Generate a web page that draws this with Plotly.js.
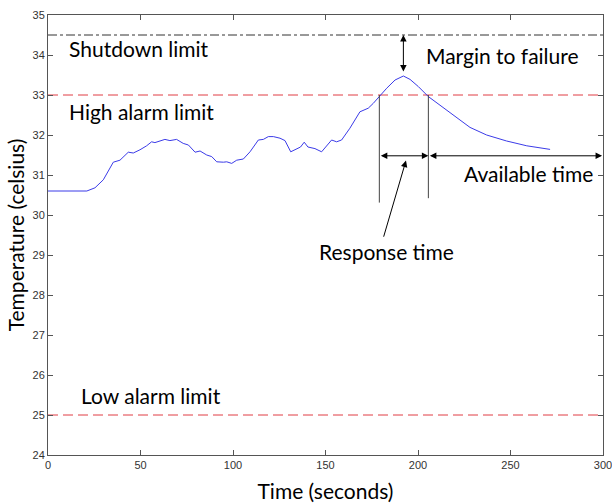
<!DOCTYPE html>
<html>
<head>
<meta charset="utf-8">
<script src="https://cdn.plot.ly/plotly-3.0.1.min.js"></script>
<style>html,body{margin:0;padding:0;background:#fff;}#chart{width:612px;height:503px;}</style>
</head>
<body>
<div id="chart"></div>
<script>
// Temperature trace (seconds, celsius)
const timeSec = [0, 21, 25.4, 29.9, 35.3, 38.9, 43.4, 46.1, 49.7, 53.3, 56, 57.8, 63.2, 65.9, 69.5, 73.1, 75.9, 79.5, 82.2, 85.8, 88.5, 91.2, 94.8, 96.6, 99.3, 102, 105.6, 109.2, 113.7, 116.4, 119.1, 121.8, 125.4, 128.1, 131.2, 134.4, 136.5, 138.5, 140.5, 144.3, 147.9, 153.3, 156, 158.7, 163.2, 168.6, 173.1, 175.8, 179.1, 183.1, 187.6, 192.1, 195.7, 200.2, 205.6, 211.9, 219.1, 228.1, 237.1, 247.9, 258.8, 271.4];
const tempC = [30.6, 30.6, 30.68, 30.88, 31.32, 31.37, 31.57, 31.55, 31.63, 31.73, 31.83, 31.81, 31.89, 31.86, 31.89, 31.79, 31.75, 31.57, 31.6, 31.5, 31.46, 31.33, 31.32, 31.33, 31.29, 31.37, 31.4, 31.58, 31.875, 31.89, 31.96, 31.96, 31.92, 31.86, 31.58, 31.66, 31.7, 31.82, 31.7, 31.66, 31.58, 31.875, 31.83, 31.875, 32.17, 32.58, 32.67, 32.79, 32.975, 33.17, 33.375, 33.475, 33.39, 33.21, 32.96, 32.75, 32.5, 32.19, 32.0, 31.85, 31.73, 31.64];

// Limits
const limitX = [0, 300];
const shutdownLimit = 34.5;
const highAlarmLimit = 33;
const lowAlarmLimit = 25;

// Event times
const crossUp = 179.1;     // curve rises through high alarm
const crossDown = 205.6;   // curve falls back through high alarm
const peakTime = 192.1;
const peakTemp = 33.5;

const xTicks = [0, 50, 100, 150, 200, 250, 300];
const yTicks = [24, 25, 26, 27, 28, 29, 30, 31, 32, 33, 34, 35];

const txtFont = {family: 'Lato, "Open Sans", sans-serif', size: 21, color: '#000'};
const redLine = {color: '#e03c44', width: 1, dash: '10px,5px'};

const traces = [
  {x: limitX, y: [shutdownLimit, shutdownLimit], mode: 'lines', line: {color: '#333', width: 1, dash: 'dashdot'}, hoverinfo: 'skip'},
  {x: limitX, y: [highAlarmLimit, highAlarmLimit], mode: 'lines', line: redLine, hoverinfo: 'skip'},
  {x: limitX, y: [lowAlarmLimit, lowAlarmLimit], mode: 'lines', line: redLine, hoverinfo: 'skip'},
  {x: timeSec, y: tempC, mode: 'lines', line: {color: '#3b3be8', width: 1}},
  {x: [crossUp, crossUp], y: [highAlarmLimit, 30.31], mode: 'lines', line: {color: '#444', width: 1}},
  {x: [crossDown, crossDown], y: [highAlarmLimit, 30.42], mode: 'lines', line: {color: '#444', width: 1}}
];

function arrow(x0, y0, x1, y1, both) {
  return {x: x1, y: y1, ax: x0, ay: y0, xref: 'x', yref: 'y', axref: 'x', ayref: 'y',
    text: '', showarrow: true, arrowhead: 2, startarrowhead: 2, arrowsize: 1.3, startarrowsize: 1.3,
    arrowwidth: 1, arrowcolor: '#000', arrowside: both ? 'end+start' : 'end', standoff: 0, startstandoff: 0};
}
function label(text, x, y) {
  return {text: text, x: x, y: y, xref: 'x', yref: 'y', xanchor: 'left', yanchor: 'middle', showarrow: false, font: txtFont};
}

const annotations = [
  label('Shutdown limit', 10.3, 34.16),
  label('High alarm limit', 10.3, 32.6),
  label('Low alarm limit', 16.5, 25.5),
  label('Margin to failure', 203.5, 33.98),
  label('Available time', 224, 31.05),
  label('Response time', 145.5, 29.08),
  arrow(peakTime, peakTemp + 0.05, peakTime, shutdownLimit, true),
  arrow(crossUp, 31.48, crossDown, 31.48, true),
  arrow(crossDown, 31.48, 299.5, 31.48, true),
  arrow(181.2, 29.42, 193.5, 31.36, false)
];

const axisCommon = {showgrid: false, zeroline: false, showline: true, linecolor: '#555', linewidth: 1,
  ticks: 'inside', ticklen: 5, tickcolor: '#555', mirror: 'ticks', ticklabeloverflow: 'allow',
  tickfont: {family: '"Liberation Sans", Arial, sans-serif', size: 11, color: '#333'}};

const layout = {
  width: 612, height: 503,
  margin: {l: 48, r: 9, t: 15, b: 48},
  paper_bgcolor: '#fff', plot_bgcolor: '#fff',
  showlegend: false,
  xaxis: Object.assign({}, axisCommon, {range: [0, 300], tickvals: xTicks,
    title: {text: 'Time (seconds)', font: {family: 'Lato, sans-serif', size: 21, color: '#000'}, standoff: 14}}),
  yaxis: Object.assign({}, axisCommon, {range: [24, 35], tickvals: yTicks,
    title: {text: 'Temperature (celsius)', font: {family: 'Lato, sans-serif', size: 21, color: '#000'}, standoff: 2}}),
  annotations: annotations
};

Plotly.newPlot('chart', traces, layout, {staticPlot: true, displayModeBar: false});
</script>
</body>
</html>
